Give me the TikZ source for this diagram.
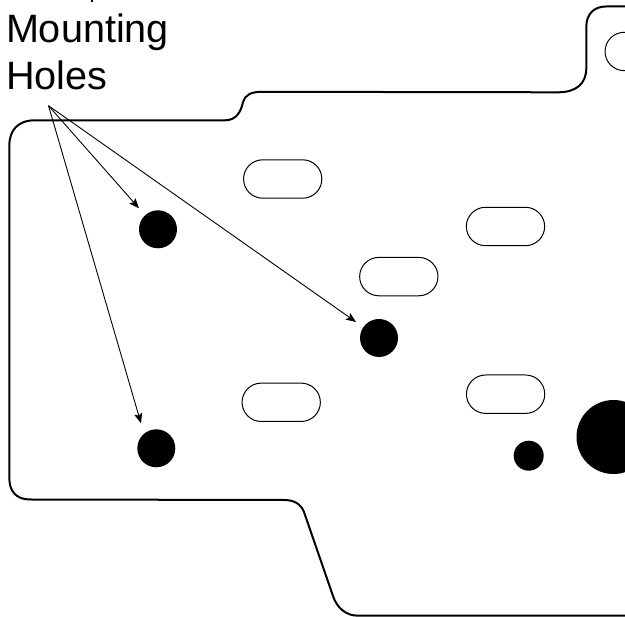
\documentclass[tikz,border=0pt]{standalone}
\usepackage{fontspec}
\setmainfont{Liberation Sans}
\usetikzlibrary{arrows.meta,shapes.misc}
\tikzset{
  outline/.style={draw=black,line width=2pt,line cap=round,line join=round},
  slot/.style={draw=black,line width=1pt,rounded rectangle,rounded rectangle arc length=180,minimum width=78.3pt,minimum height=38.4pt,inner sep=0pt,outer sep=0pt},
  hole/.style={circle,fill=black,inner sep=0pt,outer sep=0pt,minimum size=38pt},
  pointer/.style={draw=black,line width=0.9pt,-{Stealth[length=10pt,width=8pt,inset=2pt]}},
  caption/.style={font=\fontsize{39.6}{47}\selectfont,inner sep=0pt,align=left,anchor=south west}
}
\begin{document}
\begin{tikzpicture}[x=1pt,y=-1pt]
\useasboundingbox (0,0) rectangle (625,617);
\clip (0,0) rectangle (625,617);
\fill[white] (0,0) rectangle (625,617);
% board outline
\draw[outline] (625,615.7) -- (358,615.7)
  .. controls (346,615.7) and (337,608) .. (333,596)
  -- (304,512)
  .. controls (301,504) and (294,500) .. (284,500)
  -- (30,499.5)
  .. controls (16,499.5) and (9.3,491) .. (9.3,478)
  -- (9.3,146)
  .. controls (9.3,130) and (18,120.3) .. (35,120.3)
  -- (225,120.3)
  .. controls (236,120.3) and (241,112) .. (243,102)
  .. controls (245,95) and (251,91.8) .. (262,91.8)
  -- (558,92.3)
  .. controls (576,92.3) and (586.3,84) .. (586.3,68)
  -- (586.3,27)
  .. controls (586.3,14) and (594,6.5) .. (606,6.5)
  -- (625,6.5);
% slots
\node[slot] (s1) at (282.7,179) {};
\node[slot] (s2) at (505.5,226.5) {};
\node[slot] (s3) at (398.8,276.6) {};
\node[slot] (s4) at (281.2,402.3) {};
\node[slot] (s5) at (505.6,394.2) {};
\node[slot] (s6) at (644.2,51.5) {};
% holes
\node[hole] (h1) at (158,229.3) {};
\node[hole] (h2) at (156.3,448.3) {};
\node[hole] (h3) at (379,338) {};
\node[hole,minimum size=30pt] (h4) at (528.7,455.7) {};
\node[hole,minimum size=74pt] (h5) at (613.5,437) {};
% label
\node[caption] (label) at (5.8,90.5) {Mounting\\Holes};
\fill (90.6,0) rectangle (92.8,2.2);
% pointers
\coordinate (apex) at (48.5,105.7);
\coordinate (t1) at (139,208.3);
\coordinate (t2) at (141,423.3);
\coordinate (t3) at (356,322);
\draw[pointer] (apex) -- (t1);
\draw[pointer] (apex) -- (t2);
\draw[pointer] (apex) -- (t3);
\end{tikzpicture}
\end{document}
